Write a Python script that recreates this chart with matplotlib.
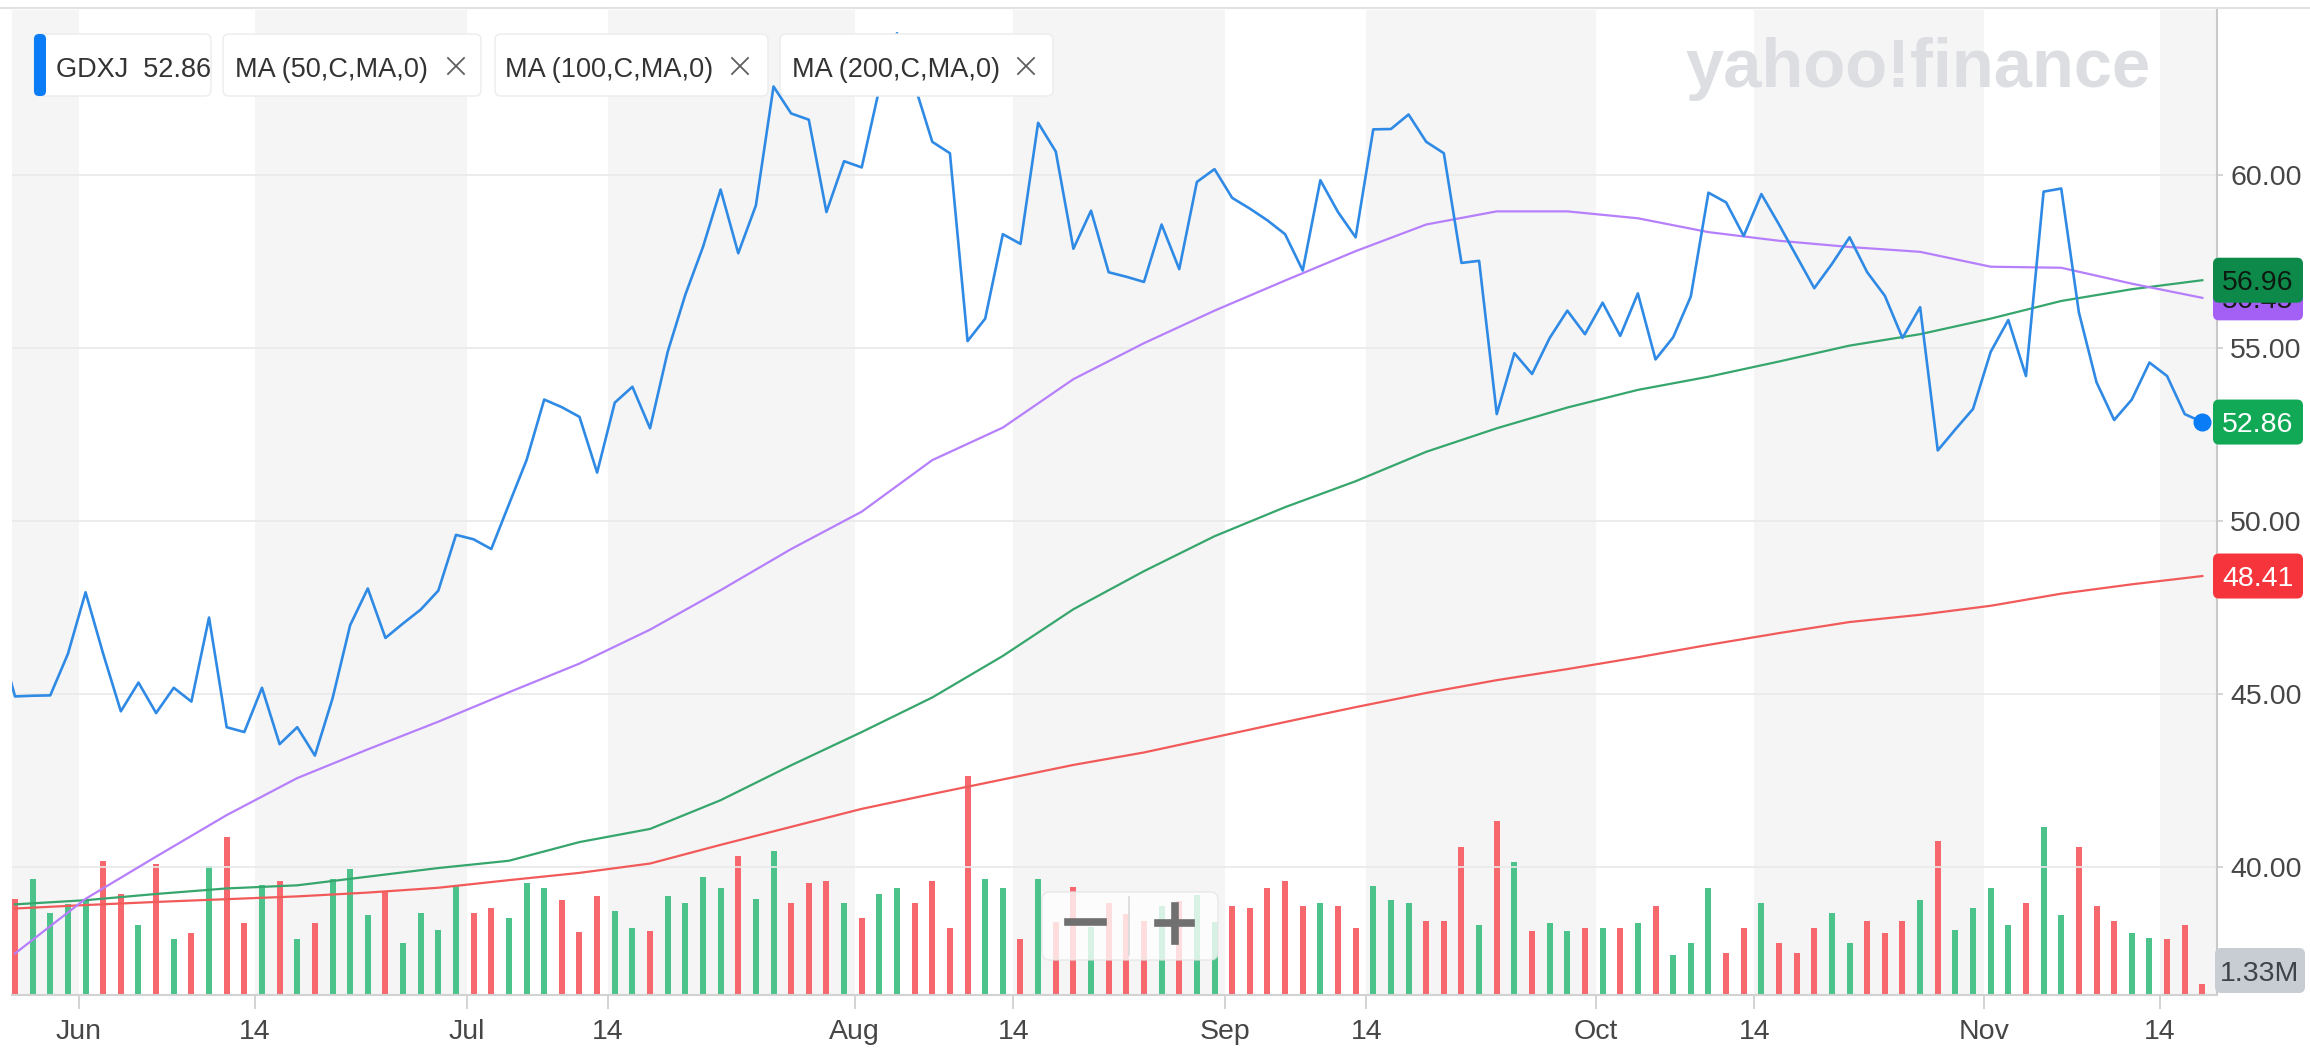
import numpy as np
import pandas as pd
import matplotlib
matplotlib.use('Agg')
import matplotlib.pyplot as plt
from matplotlib import font_manager, transforms
from matplotlib.patches import FancyBboxPatch
from matplotlib.lines import Line2D

# ---- data (GDXJ daily, May 22 - Nov 18 2020) ----
dates = pd.bdate_range('2020-05-22', '2020-11-18')
dates = dates.drop(pd.to_datetime(['2020-05-25', '2020-07-03', '2020-09-07']))

close = [46.80,
         44.93, 44.95, 44.96, 46.16, 47.94, 46.16, 44.50, 45.33, 44.45, 45.18,
         44.78, 47.21, 44.04, 43.90, 45.18, 43.55, 44.04, 43.22, 44.87, 46.99,
         48.05, 46.62, 47.04, 47.44, 47.99, 49.60, 49.47, 49.19, 50.48, 51.76,
         53.51, 53.29, 53.01, 51.40, 53.42, 53.88, 52.68, 54.89, 56.54, 57.92,
         59.58, 57.74, 59.12, 62.56, 61.78, 61.60, 58.93, 60.40, 60.22, 62.50,
         64.10, 62.60, 60.96, 60.63, 55.20, 55.85, 58.29, 58.01, 61.51, 60.68,
         57.87, 58.97, 57.19, 57.06, 56.91, 58.57, 57.28, 59.80, 60.17, 59.34,
         59.03, 58.69, 58.29, 57.24, 59.85, 58.93, 58.20, 61.32, 61.33, 61.75,
         60.96, 60.63, 57.46, 57.52, 53.09, 54.85, 54.25, 55.29, 56.08, 55.40,
         56.31, 55.35, 56.58, 54.67, 55.31, 56.49, 59.49, 59.21, 58.24, 59.45,
         58.57, 57.65, 56.73, 57.43, 58.20, 57.19, 56.51, 55.29, 56.18, 52.04,
         52.65, 53.24, 54.89, 55.81, 54.19, 59.52, 59.61, 56.03, 54.01, 52.92,
         53.51, 54.58, 54.19, 53.09, 52.86]

# volume in millions, May 26 onwards
volume_m = [11.7, 14.2, 10.0, 11.1, 11.7, 16.4, 12.4, 8.6, 16.0, 6.8,
            7.6, 15.8, 19.4, 8.8, 13.5, 13.9, 6.8, 8.8, 14.2, 15.4,
            9.8, 12.7, 6.4, 10.0, 8.0, 13.4, 10.0, 10.7, 9.4, 13.7,
            13.1, 11.6, 7.7, 12.1, 10.3, 8.2, 7.8, 12.1, 11.3, 14.5,
            13.1, 17.0, 11.7, 17.6, 11.3, 13.7, 13.9, 11.3, 9.4, 12.4,
            13.1, 11.3, 13.9, 8.2, 26.8, 14.2, 13.1, 6.8, 14.2, 8.9,
            13.2, 8.3, 11.3, 9.9, 9.1, 10.9, 11.5, 12.2, 8.9, 10.9,
            10.7, 13.1, 13.9, 10.9, 11.3, 10.9, 8.2, 13.4, 11.6, 11.3,
            9.1, 9.1, 18.1, 8.6, 21.3, 16.3, 7.8, 8.8, 7.8, 8.2,
            8.2, 8.2, 8.8, 10.9, 4.9, 6.4, 13.1, 5.2, 8.2, 11.3,
            6.4, 5.2, 8.2, 10.0, 6.4, 9.1, 7.6, 9.1, 11.6, 18.8,
            8.0, 10.7, 13.1, 8.6, 11.3, 20.6, 9.8, 18.1, 10.9, 9.1,
            7.6, 7.0, 6.8, 8.6, 1.33]

# moving averages sampled every 4th trading day from May 26
ma_x = list(range(0, 125, 4))
ma50 = [37.50, 39.08, 40.30, 41.50, 42.57, 43.40, 44.20, 45.05, 45.88, 46.86,
        48.00, 49.19, 50.27, 51.76, 52.70, 54.10, 55.14, 56.08, 56.95, 57.80,
        58.57, 58.95, 58.95, 58.75, 58.35, 58.10, 57.92, 57.78, 57.35, 57.32,
        56.86, 56.45]
ma100 = [38.92, 39.04, 39.22, 39.38, 39.47, 39.72, 39.97, 40.18, 40.72, 41.10,
         41.93, 42.94, 43.90, 44.90, 46.10, 47.45, 48.55, 49.56, 50.40, 51.15,
         52.00, 52.68, 53.28, 53.79, 54.17, 54.61, 55.07, 55.40, 55.85, 56.36,
         56.70, 56.96]
ma200 = [38.80, 38.90, 38.99, 39.07, 39.15, 39.26, 39.40, 39.62, 39.83, 40.10,
         40.64, 41.16, 41.68, 42.11, 42.53, 42.95, 43.31, 43.75, 44.19, 44.62,
         45.03, 45.40, 45.72, 46.06, 46.42, 46.76, 47.08, 47.29, 47.55, 47.90,
         48.17, 48.41]

tick_dates = ['2020-06-01', '2020-06-14', '2020-07-01', '2020-07-14', '2020-08-01',
              '2020-08-14', '2020-09-01', '2020-09-14', '2020-10-01', '2020-10-14',
              '2020-11-01', '2020-11-14']
tick_labels = ['Jun', '14', 'Jul', '14', 'Aug', '14', 'Sep', '14', 'Oct', '14', 'Nov', '14']
price_ticks = [40, 45, 50, 55, 60]

symbol = 'GDXJ'
legend_items = ['MA (50,C,MA,0)', 'MA (100,C,MA,0)', 'MA (200,C,MA,0)']
vol_label = '1.33M'

# ---- colours ----
c_price = '#2f8ae5'
c_dot = '#0a7cf5'
c_ma50 = '#b67ffb'
c_ma100 = '#36a66c'
c_ma200 = '#f25a5a'
c_up = '#4cc38a'
c_down = '#f7686e'
c_shade = '#f5f5f5'
c_text = '#464646'

names = {f.name for f in font_manager.fontManager.ttflist}
if 'Liberation Sans Narrow' in names:
    leg_font, leg_size = 'Liberation Sans Narrow', 23.5
else:
    leg_font, leg_size = 'Liberation Sans', 19.5
plt.rcParams['font.family'] = ['Liberation Sans', 'DejaVu Sans']

W, H = 2310, 1048
fig = plt.figure(figsize=(W / 100, H / 100), dpi=100)
fig.patch.set_facecolor('white')


def fx(px):
    return px / W


def fy(py):
    return 1 - py / H


px = transforms.IdentityTransform()  # display pixels, y up

rect = [fx(12), fy(995), fx(2217) - fx(12), fy(10) - fy(995)]
ax_vol = fig.add_axes(rect)
ax = fig.add_axes(rect, sharex=ax_vol)
ax.patch.set_alpha(0)

x = np.arange(len(dates)) - 1
xv = x[1:]
xlim = (-0.17, 124.83)
ax.set_xlim(*xlim)
ax.set_ylim(36.30, 64.77)
ax_vol.set_ylim(0, 120.6)

# month shading
tick_pos = [dates.searchsorted(pd.Timestamp(d)) - 1 - 0.4 for d in tick_dates]
bounds = [xlim[0]] + tick_pos + [xlim[1]]
for i in range(len(bounds) - 1):
    if i % 2 == 0:
        ax_vol.axvspan(bounds[i], bounds[i + 1], color=c_shade, lw=0, zorder=0)

# volume
up = np.diff(np.array(close)) >= 0
ax_vol.bar(xv, volume_m, width=0.34, color=[c_up if u else c_down for u in up], zorder=2)
ax_vol.set_yticks([])
ax_vol.tick_params(axis='x', length=0, labelbottom=False)
for s in ax_vol.spines.values():
    s.set_visible(False)

# price + moving averages
ax.grid(axis='y', color='#e9e9e9', lw=1.2)
ax.set_axisbelow(True)
ax.plot(ma_x, ma200, color=c_ma200, lw=1.6, zorder=3)
ax.plot(ma_x, ma100, color=c_ma100, lw=1.6, zorder=3)
ax.plot(ma_x, ma50, color=c_ma50, lw=1.6, zorder=3)
ax.plot(x, close, color=c_price, lw=1.9, zorder=4)
ax.plot(x[-1], close[-1], 'o', ms=12, color=c_dot, zorder=6, clip_on=False)

ax.yaxis.tick_right()
ax.set_yticks(price_ticks)
ax.set_yticklabels([f'{v:.2f}' for v in price_ticks])
ax.tick_params(axis='y', length=4.5, width=1.2, color='#cccccc', pad=5,
               labelsize=20.5, labelcolor=c_text)
ax.set_xticks(tick_pos)
ax.set_xticklabels(tick_labels)
ax.tick_params(axis='x', length=10, width=1.2, color='#cccccc', pad=7,
               labelsize=20.5, labelcolor=c_text)
for side in ['top', 'left']:
    ax.spines[side].set_visible(False)
ax.spines['right'].set_color('#c9c9c9')
ax.spines['right'].set_linewidth(1.5)
ax.spines['bottom'].set_color('#d2d2d2')
ax.spines['bottom'].set_linewidth(1.5)

fig.add_artist(Line2D([0, 1], [fy(8), fy(8)], transform=fig.transFigure,
                      color='#e2e2e2', lw=1.5))

# watermark
fig.text(fx(1918), fy(87), 'yahoo!finance', ha='center', va='baseline',
         fontsize=49.5, fontweight='bold', color='#dcdee2')


def box(x0, y0, x1, y1, fc, ec='none', r=6, alpha=1.0, z=5):
    p = FancyBboxPatch((x0, H - y1), x1 - x0, y1 - y0,
                       boxstyle=f'round,pad=0,rounding_size={r}',
                       fc=fc, ec=ec, lw=1, alpha=alpha, transform=px, zorder=z)
    fig.add_artist(p)


def cross(cx, cy, s=8):
    for dx in (-s, s):
        fig.add_artist(Line2D([cx - s, cx + s], [H - cy - dx, H - cy + dx],
                              transform=px, color='#5f5f5f', lw=1.3, zorder=7))


# legend chips
box(34, 34, 211, 96, 'white', ec='#ececec')
box(34, 34, 46, 96, c_dot, r=5, z=6)
fig.text(56, H - 77, f'{symbol}  {close[-1]:.2f}', transform=px, ha='left',
         va='baseline', family=leg_font, fontsize=leg_size, color='#333333', zorder=7)
chips = [(223, 481, 235, 456), (495, 768, 505, 740), (780, 1053, 792, 1026)]
for (x0, x1, tx, cx), lab in zip(chips, legend_items):
    box(x0, 34, x1, 96, 'white', ec='#ececec')
    fig.text(tx, H - 77, lab, transform=px, ha='left', va='baseline',
             family=leg_font, fontsize=leg_size, color='#333333', zorder=7)
    cross(cx, 66)


# value labels on the right axis
def value_label(v, text, fc, tc, z=5):
    yc = ax.transData.transform((0, v))[1]
    fig.add_artist(FancyBboxPatch((2213, yc - 22.5), 90, 45,
                                  boxstyle='round,pad=0,rounding_size=6',
                                  fc=fc, ec='none', transform=px, zorder=z))
    fig.text(2258, yc - 10.2, text, transform=px, ha='center', va='baseline',
             fontsize=20.5, color=tc, zorder=z + 0.1)


# the MA50 chip sits underneath the MA100 chip, as on the site
value_label(ma50[-1], f'{ma50[-1]:.2f}', '#a45ff5', '#1a1a1a', z=4.0)
value_label(ma100[-1], f'{ma100[-1]:.2f}', '#0d8a49', '#0d1a12', z=4.5)
value_label(close[-1], f'{close[-1]:.2f}', '#12a956', 'white')
value_label(ma200[-1], f'{ma200[-1]:.2f}', '#f5343c', 'white')
box(2215, 948, 2305, 993, '#c8ccd3', r=6)
fig.text(2260, H - 981, vol_label, transform=px, ha='center', va='baseline',
         fontsize=20.5, color='#3f434a', zorder=7)

# zoom control
box(1042, 892, 1218, 960, 'white', ec='#e4e4e4', r=8, alpha=0.78)
fig.add_artist(Line2D([1068, 1103], [H - 922, H - 922], transform=px,
                      color='#707070', lw=5.5, zorder=7))
fig.add_artist(Line2D([1158, 1191], [H - 923, H - 923], transform=px,
                      color='#707070', lw=5.5, zorder=7))
fig.add_artist(Line2D([1175, 1175], [H - 906, H - 941], transform=px,
                      color='#707070', lw=5.5, zorder=7))
fig.add_artist(Line2D([1129, 1129], [H - 897, H - 955], transform=px,
                      color='#dadada', lw=1.2, zorder=7))

fig.savefig('out.png', dpi=100, facecolor='white')
